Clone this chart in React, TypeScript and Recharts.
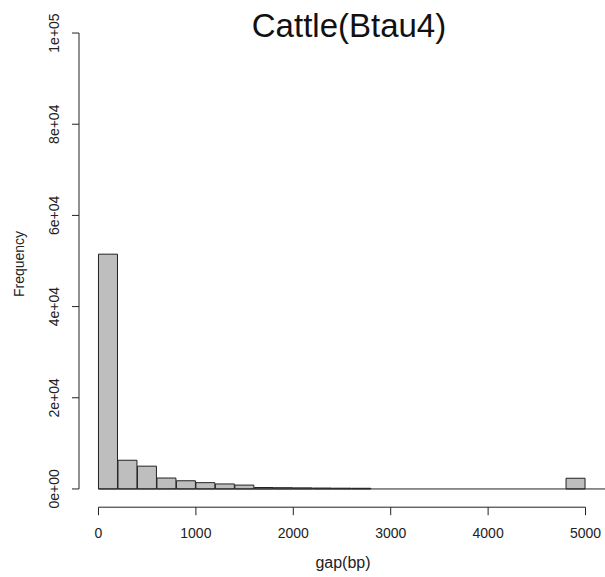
import React from 'react';
import { ComposedChart, Bar, XAxis, YAxis, ReferenceLine } from 'recharts';

// Histogram bin centres (bp), bins are 200 bp wide
const binMids = [
  100, 300, 500, 700, 900, 1100, 1300, 1500, 1700, 1900,
  2100, 2300, 2500, 2700, 2900, 3100, 3300, 3500, 3700, 3900,
  4100, 4300, 4500, 4700, 4900,
];
// Frequency per bin
const frequencies = [
  51500, 6300, 5000, 2400, 1800, 1380, 1100, 850, 320, 280,
  240, 200, 170, 150, 0, 0, 0, 0, 0, 0,
  0, 0, 0, 0, 2350,
];
const xTicks = [0, 1000, 2000, 3000, 4000, 5000];
const yTicks = [0, 20000, 40000, 60000, 80000, 100000];

const data = binMids.map((m, i) => ({ mid: m, freq: frequencies[i] > 0 ? frequencies[i] : null }));

const FONT = 'Liberation Sans, Arial, sans-serif';

const fmtExp = (v: number) => {
  const s = v.toExponential(0);
  const m = s.match(/^(-?\d)e([+-])(\d+)$/);
  if (!m) return s;
  return `${m[1]}e${m[2]}${m[3].padStart(2, '0')}`;
};

const YTick = (props: any) => {
  const { x, y, payload } = props;
  return (
    <text
      transform={`translate(${x - 11},${y}) rotate(-90)`}
      textAnchor="middle"
      fontFamily={FONT}
      fontSize={14}
      fill="#222"
    >
      {fmtExp(payload.value)}
    </text>
  );
};

const XTick = (props: any) => {
  const { x, y, payload } = props;
  return (
    <text x={x} y={y + 21} textAnchor="middle" fontFamily={FONT} fontSize={14} fill="#222">
      {payload.value}
    </text>
  );
};

export default function App() {
  return (
    <div style={{ position: 'absolute', left: 0, top: 0, width: 605, height: 577, background: '#fff' }}>
      <ComposedChart
        width={605}
        height={577}
        data={data}
        margin={{ top: 14.8, right: 0, bottom: 20, left: 0 }}
        barCategoryGap={0}
        barGap={0}
      >
        <XAxis
          dataKey="mid"
          type="number"
          domain={[-200, 5200]}
          ticks={xTicks}
          interval={0}
          height={49.8}
          axisLine={false}
          tickLine={{ stroke: '#222' }}
          tickSize={8}
          tick={<XTick />}
          allowDataOverflow
        />
        <YAxis
          type="number"
          domain={[-4000, 104000]}
          ticks={yTicks}
          interval={0}
          width={79}
          axisLine={false}
          tickLine={{ stroke: '#222' }}
          tickSize={7}
          tick={<YTick />}
          allowDataOverflow
        />
        <Bar
          dataKey="freq"
          fill="#bebebe"
          stroke="#222"
          strokeWidth={1}
          isAnimationActive={false}
        />
        <ReferenceLine
          segment={[{ x: 0, y: 0 }, { x: 5200, y: 0 }]}
          stroke="#222"
          strokeWidth={1}
          ifOverflow="visible"
        />
        <ReferenceLine
          segment={[{ x: 0, y: -4000 }, { x: 5000, y: -4000 }]}
          stroke="#222"
          strokeWidth={1}
          ifOverflow="visible"
        />
        <ReferenceLine
          segment={[{ x: -200, y: 0 }, { x: -200, y: 100000 }]}
          stroke="#222"
          strokeWidth={1}
          ifOverflow="visible"
        />
      </ComposedChart>
      <svg
        width={605}
        height={577}
        style={{ position: 'absolute', left: 0, top: 0, pointerEvents: 'none' }}
      >
        <text x={349} y={37} textAnchor="middle" fontFamily={FONT} fontSize={33} fill="#111">
          Cattle(Btau4)
        </text>
        <text x={343} y={568} textAnchor="middle" fontFamily={FONT} fontSize={16} fill="#222">
          gap(bp)
        </text>
        <text
          transform="translate(24,264) rotate(-90)"
          textAnchor="middle"
          fontFamily={FONT}
          fontSize={14}
          fill="#222"
        >
          Frequency
        </text>
      </svg>
    </div>
  );
}
